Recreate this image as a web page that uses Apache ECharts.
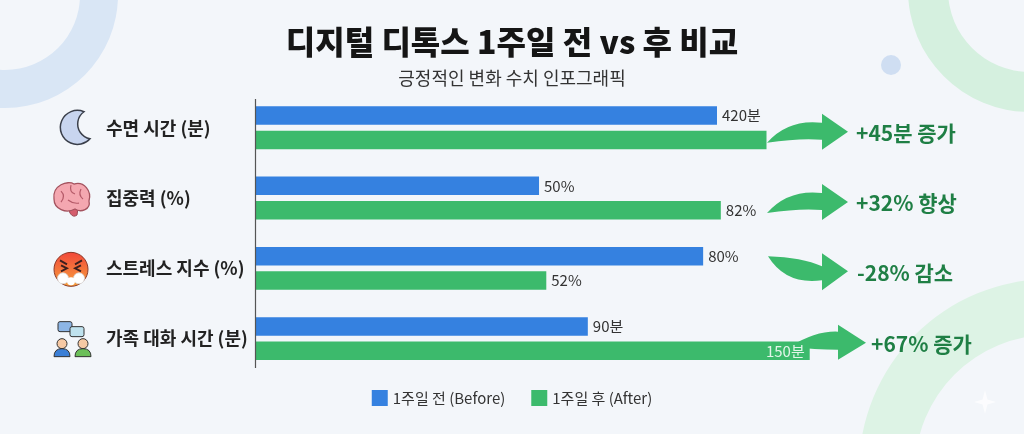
<!DOCTYPE html>
<html>
<head>
<meta charset="utf-8">
<script src="https://cdn.jsdelivr.net/npm/echarts@6/dist/echarts.min.js"></script>
<style>
  html, body { margin: 0; padding: 0; background: #f3f6fa; }
  #detoxChart { width: 1024px; height: 434px; }
</style>
</head>
<body>
<div id="detoxChart"></div>
<script>
// 데이터
var categories = ['수면 시간 (분)', '집중력 (%)', '스트레스 지수 (%)', '가족 대화 시간 (분)'];
var units = ['분', '%', '%', '분'];
var beforeValues = [420, 50, 80, 90];
var afterValues = [465, 82, 52, 150];
var axisMax = [550, 106.5, 108, 163.6];
var changeLabels = ['+45분 증가', '+32% 향상', '-28% 감소', '+67% 증가'];
var seriesNames = ['1주일 전 (Before)', '1주일 후 (After)'];

var BLUE = '#3581e0';
var GREEN = '#3cba6c';
var DARK_GREEN = '#1f7f45';
var FONT = 'Noto Sans CJK KR';

var myChart = echarts.init(document.getElementById('detoxChart'));

var grids = [], xAxes = [], yAxes = [], series = [];
categories.forEach(function (cat, i) {
	grids.push({ left: 255, width: 605, top: 92.6 + i * 70.3, height: 70.3 });
	xAxes.push({ type: 'value', gridIndex: i, min: 0, max: axisMax[i], show: false });
	yAxes.push({
		type: 'category', gridIndex: i, data: [cat], inverse: true,
		axisLine: { show: false }, axisTick: { show: false },
		axisLabel: { align: 'left', margin: 149, fontSize: 18, fontWeight: 'bold', color: '#222', fontFamily: FONT }
	});
	series.push({
		name: seriesNames[0], type: 'bar', xAxisIndex: i, yAxisIndex: i,
		barWidth: 18.5, barGap: '32%',
		itemStyle: { color: BLUE },
		label: {
			show: true, position: 'right', distance: 5, fontSize: 15, color: '#333', fontFamily: FONT,
			formatter: function (p) { return p.value + units[i]; }
		},
		data: [beforeValues[i]]
	});
	var afterLabel = {
		show: i !== 0, position: 'right', distance: 5, fontSize: 15, color: '#333', fontFamily: FONT,
		formatter: function (p) { return p.value + units[i]; }
	};
	if (i === 3) {
		afterLabel.position = 'insideRight';
		afterLabel.color = 'rgba(255,255,255,0.85)';
	}
	series.push({
		name: seriesNames[1], type: 'bar', xAxisIndex: i, yAxisIndex: i,
		barWidth: 18.5, barGap: '32%',
		itemStyle: { color: GREEN },
		label: afterLabel,
		data: [afterValues[i]]
	});
});

var option = {
	backgroundColor: '#f3f6fa',
	animation: false,
	textStyle: { fontFamily: FONT },
	title: [{
		text: '디지털 디톡스 1주일 전 vs 후 비교',
		left: 'center', top: 21,
		textStyle: { fontSize: 32, fontWeight: 900, color: '#151515', fontFamily: FONT }
	}, {
		text: '긍정적인 변화 수치 인포그래픽',
		left: 'center', top: 64,
		textStyle: { fontSize: 18, fontWeight: 'normal', color: '#333', fontFamily: FONT }
	}],
	legend: {
		data: seriesNames,
		top: 385, left: 'center',
		icon: 'rect', itemWidth: 16, itemHeight: 16, itemGap: 26,
		textStyle: { fontSize: 15, color: '#333', fontFamily: FONT }
	},
	grid: grids,
	xAxis: xAxes,
	yAxis: yAxes,
	graphic: {
		elements: [
			{ type: 'ring', shape: { cx: 5, cy: -5, r: 113, r0: 75 }, style: { fill: '#d9e6f5' }, z: -10 },
			{ type: 'ring', shape: { cx: 1030, cy: -10, r: 122, r0: 82 }, style: { fill: '#d5f0df' }, z: -10 },
			{ type: 'ring', shape: { cx: 1050, cy: 470, r: 191, r0: 135 }, style: { fill: '#ddf3e5' }, z: -10 },
			{ type: 'circle', shape: { cx: 891, cy: 65, r: 10 }, style: { fill: '#cfdef2' }, z: -10 },
			{ type: 'polygon', shape: { points: [[985, 390], [987.5, 399.5], [996, 402], [987.5, 404.5], [985, 414], [982.5, 404.5], [974, 402], [982.5, 399.5]] },
				style: { fill: 'rgba(255,255,255,0.7)' }, z: -9 },
			{ type: 'line', shape: { x1: 255.5, y1: 99, x2: 255.5, y2: 368 }, style: { stroke: '#555', lineWidth: 1.2 }, z: 10 }
		]
	},
	series: series
};

myChart.setOption(option);

// 장식 요소 (아이콘, 화살표) - 각 행의 중심 위치 기준
var centers = categories.map(function (cat, i) {
	return myChart.convertToPixel({ yAxisIndex: i }, cat);
});

function arrowPath(kind, c) {
	if (kind === 'down') {
		return 'M768,' + (c - 12) + ' Q802,' + (c - 11) + ' 822,' + (c - 2) +
			' L822,' + (c - 15) + ' L848,' + (c + 3) + ' L822,' + (c + 22) + ' L822,' + (c + 12) +
			' Q786,' + (c + 17) + ' 768,' + (c - 12) + ' Z';
	}
	if (kind === 'long') {
		return 'M790,' + (c + 8) + ' Q816,' + (c - 8) + ' 838,' + (c - 7) +
			' L838,' + (c - 14) + ' L866,' + (c + 4) + ' L838,' + (c + 21) + ' L838,' + (c + 11) +
			' Q815,' + (c + 11) + ' 790,' + (c + 8) + ' Z';
	}
	return 'M767,' + (c + 15) + ' Q788,' + (c - 9) + ' 822,' + (c - 5) +
		' L822,' + (c - 14) + ' L848,' + (c + 4) + ' L822,' + (c + 22) + ' L822,' + (c + 12) +
		' Q800,' + (c + 10) + ' 767,' + (c + 15) + ' Z';
}

var arrowKinds = ['up', 'up', 'down', 'long'];
var textX = [856, 856, 857, 871];

function p(d, style) { return { type: 'path', shape: { pathData: d }, style: style }; }

function buildDecor() {
	var kids = [];
	centers.forEach(function (c, i) {
		kids.push(p(arrowPath(arrowKinds[i], c), { fill: GREEN }));
		kids.push({
			type: 'text',
			style: { x: textX[i], y: c + 5, text: changeLabels[i], fill: DARK_GREEN, verticalAlign: 'middle',
				font: 'bold 21px "Noto Sans CJK KR"' }
		});
	});

	// 달
	var c0 = centers[0];
	kids.push(p('M84,' + (c0 - 16) + ' A17,17 0 1,0 90,' + (c0 + 11) + ' A15,15 0 0,1 84,' + (c0 - 16) + ' Z',
		{ fill: '#c8d5ef', stroke: '#3a3f4a', lineWidth: 1.5 }));

	// 뇌
	var c1 = centers[1];
	kids.push(p('M68,' + (c1 + 10) + ' L78,' + (c1 + 10) + ' L77,' + (c1 + 17) + ' Q73,' + (c1 + 20) + ' 70,' + (c1 + 15) + ' Z',
		{ fill: '#d45d6c', stroke: '#9c4a55', lineWidth: 1 }));
	kids.push(p('M54,' + (c1 + 1) + ' C52,' + (c1 - 13) + ' 68,' + (c1 - 18) + ' 74,' + (c1 - 14) +
		' C84,' + (c1 - 17) + ' 92,' + (c1 - 7) + ' 89,' + (c1 + 3) + ' C91,' + (c1 + 11) + ' 81,' + (c1 + 15) + ' 75,' + (c1 + 11) +
		' C66,' + (c1 + 16) + ' 54,' + (c1 + 11) + ' 54,' + (c1 + 1) + ' Z',
		{ fill: '#f4a7b0', stroke: '#a4525e', lineWidth: 1.3 }));
	kids.push(p('M61,' + (c1 - 7) + ' Q66,' + (c1 - 2) + ' 61,' + (c1 + 4) +
		' M71,' + (c1 - 13) + ' Q69,' + (c1 - 6) + ' 75,' + (c1 - 4) + ' M81,' + (c1 - 9) + ' Q78,' + (c1 - 3) + ' 83,' + (c1 + 1) +
		' M68,' + (c1 + 2) + ' Q73,' + (c1 + 6) + ' 79,' + (c1 + 5),
		{ fill: null, stroke: '#b55a68', lineWidth: 1.2 }));

	// 화난 얼굴
	var c2 = centers[2];
	kids.push({ type: 'circle', shape: { cx: 71, cy: c2 + 1, r: 17 },
		style: { fill: new echarts.graphic.LinearGradient(0, 0, 0, 1, [{ offset: 0, color: '#f1473a' }, { offset: 1, color: '#f8a33d' }]),
			stroke: '#8a3a2a', lineWidth: 1 } });
	kids.push(p('M60,' + (c2 - 8) + ' L67,' + (c2 - 4) + ' M82,' + (c2 - 8) + ' L75,' + (c2 - 4) +
		' M61,' + (c2 - 3) + ' L67,' + (c2) + ' L61,' + (c2 + 3) + ' M81,' + (c2 - 3) + ' L75,' + (c2) + ' L81,' + (c2 + 3),
		{ fill: null, stroke: '#3a1f1f', lineWidth: 1.8 }));
	kids.push({ type: 'circle', shape: { cx: 63, cy: c2 + 10, r: 5.5 }, style: { fill: '#fff', stroke: '#d8d8d8', lineWidth: 0.8 } });
	kids.push({ type: 'circle', shape: { cx: 79, cy: c2 + 10, r: 5.5 }, style: { fill: '#fff', stroke: '#d8d8d8', lineWidth: 0.8 } });
	kids.push({ type: 'circle', shape: { cx: 71, cy: c2 + 13, r: 4 }, style: { fill: '#fff' } });

	// 가족 대화
	var c3 = centers[3];
	kids.push({ type: 'rect', shape: { x: 58, y: c3 - 17, width: 14, height: 10, r: 2 }, style: { fill: '#8db6e6', stroke: '#333', lineWidth: 1 } });
	kids.push({ type: 'rect', shape: { x: 70, y: c3 - 12, width: 14, height: 10, r: 2 }, style: { fill: '#bfe2ee', stroke: '#333', lineWidth: 1 } });
	kids.push({ type: 'circle', shape: { cx: 62, cy: c3 + 5, r: 5 }, style: { fill: '#f6c9a4', stroke: '#333', lineWidth: 1 } });
	kids.push(p('M54,' + (c3 + 18) + ' Q54,' + (c3 + 10) + ' 62,' + (c3 + 10) + ' Q70,' + (c3 + 10) + ' 70,' + (c3 + 18) + ' Z',
		{ fill: '#3b7fd6', stroke: '#333', lineWidth: 1 }));
	kids.push({ type: 'circle', shape: { cx: 83, cy: c3 + 5, r: 5 }, style: { fill: '#f6c9a4', stroke: '#333', lineWidth: 1 } });
	kids.push(p('M75,' + (c3 + 18) + ' Q75,' + (c3 + 10) + ' 83,' + (c3 + 10) + ' Q91,' + (c3 + 10) + ' 91,' + (c3 + 18) + ' Z',
		{ fill: '#6bbf59', stroke: '#333', lineWidth: 1 }));
	return kids;
}

series.push({
	type: 'custom',
	coordinateSystem: 'none',
	silent: true,
	z: 1,
	data: [0],
	renderItem: function () {
		return { type: 'group', children: buildDecor() };
	}
});

myChart.setOption({ series: series });
</script>
</body>
</html>
